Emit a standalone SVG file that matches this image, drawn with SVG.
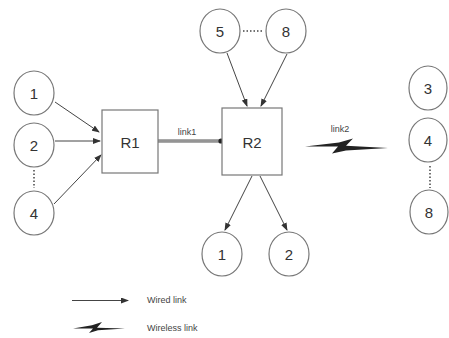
<svg xmlns="http://www.w3.org/2000/svg" width="449" height="338" viewBox="0 0 449 338">
<style>
.n{fill:#fff;stroke:#777;stroke-width:1.2}
.t{font-family:"Liberation Sans",Arial,sans-serif;font-size:15px;fill:#333;text-anchor:middle}
.s{font-family:"Liberation Sans",Arial,sans-serif;font-size:9px;fill:#444}
.w{stroke:#444;stroke-width:1;fill:none}
.d{stroke:#444;stroke-width:1.5;stroke-dasharray:1.5 2;fill:none}
.b{fill:#222}
</style>
<defs>
<marker id="a" markerWidth="8" markerHeight="6" refX="7" refY="3" orient="auto" markerUnits="userSpaceOnUse">
<path d="M0,0 L8,3 L0,6 Z" fill="#333"/>
</marker>
</defs>
<rect width="449" height="338" fill="#fff"/>
<g id="connectors">
<line class="w" x1="55" y1="102" x2="99" y2="132" marker-end="url(#a)"/>
<line class="w" x1="55" y1="141" x2="100" y2="141" marker-end="url(#a)"/>
<line class="w" x1="54" y1="204" x2="101" y2="155" marker-end="url(#a)"/>
<line class="d" x1="34" y1="170" x2="34" y2="188"/>
<line x1="158" y1="141" x2="221" y2="141" stroke="#555" stroke-width="3.2"/>
<line x1="158" y1="141" x2="221" y2="141" stroke="#aaa" stroke-width="1.4"/>
<circle cx="221" cy="141" r="2.6" fill="#222"/>
<line class="w" x1="227" y1="53" x2="247" y2="106" marker-end="url(#a)"/>
<line class="w" x1="287" y1="54" x2="261" y2="106" marker-end="url(#a)"/>
<line class="d" x1="243" y1="31" x2="264" y2="31"/>
<line class="w" x1="252" y1="176" x2="225" y2="230" marker-end="url(#a)"/>
<line class="w" x1="260" y1="176" x2="287" y2="230" marker-end="url(#a)"/>
<line class="d" x1="430" y1="166" x2="430" y2="188"/>
<path class="b" d="M305,146.5 L339,142.6 L353,138.5 L346,145.8 L388,148 L346,150.4 L332,153.5 L338,146.6 Z"/>
</g>
<g id="R1"><rect class="n" x="102" y="110" width="56" height="63"/><text class="t" x="130" y="148">R1</text></g>
<g id="R2"><rect class="n" x="222" y="108" width="60" height="67"/><text class="t" x="252" y="148">R2</text></g>
<g id="L1"><ellipse class="n" cx="34" cy="93" rx="20" ry="22"/><text class="t" x="34" y="99">1</text></g>
<g id="L2"><ellipse class="n" cx="34" cy="145" rx="20" ry="22"/><text class="t" x="34" y="151">2</text></g>
<g id="L4"><ellipse class="n" cx="34" cy="213" rx="20" ry="22"/><text class="t" x="34" y="219">4</text></g>
<g id="T5"><ellipse class="n" cx="220" cy="31" rx="20" ry="22"/><text class="t" x="220" y="37">5</text></g>
<g id="T8"><ellipse class="n" cx="286" cy="31" rx="20" ry="22"/><text class="t" x="286" y="37">8</text></g>
<g id="B1"><ellipse class="n" cx="222" cy="254" rx="20" ry="22"/><text class="t" x="222" y="260">1</text></g>
<g id="B2"><ellipse class="n" cx="289" cy="254" rx="20" ry="22"/><text class="t" x="289" y="260">2</text></g>
<g id="R3"><ellipse class="n" cx="428" cy="88" rx="19" ry="22"/><text class="t" x="428" y="94">3</text></g>
<g id="R4"><ellipse class="n" cx="428" cy="140" rx="19" ry="22"/><text class="t" x="428" y="146">4</text></g>
<g id="R8"><ellipse class="n" cx="429" cy="212" rx="19" ry="22"/><text class="t" x="429" y="218">8</text></g>
<g id="labels">
<text class="s" x="187" y="135" text-anchor="middle">link1</text>
<text class="s" x="340" y="132" text-anchor="middle">link2</text>
</g>
<g id="legend">
<line class="w" x1="72" y1="300.5" x2="128" y2="300.5" marker-end="url(#a)"/>
<path class="b" d="M73,328.5 L92,325.3 L102,322 L97,327.8 L125,328.5 L98,330.3 L89,333 L93,328.4 Z"/>
<text class="s" x="147" y="303">Wired link</text>
<text class="s" x="147" y="331">Wireless link</text>
</g>
</svg>
